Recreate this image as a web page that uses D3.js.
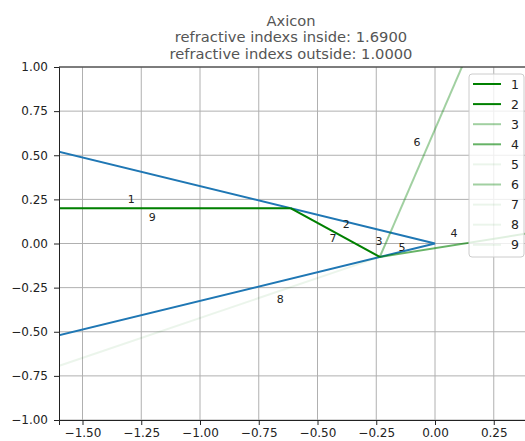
<!DOCTYPE html>
<html><head><meta charset="utf-8">
<script src="https://cdn.jsdelivr.net/npm/d3@7"></script>
<style>body{margin:0;background:#fff}svg{display:block}text{font-family:"DejaVu Sans",sans-serif}</style>
</head><body><svg id="c" width="525" height="441"></svg>
<script>
// ---- data ----
const titleLines = ["Axicon", "refractive indexs inside: 1.6900", "refractive indexs outside: 1.0000"];
const xTicks = [-1.5, -1.25, -1.0, -0.75, -0.5, -0.25, 0.0, 0.25];
const yTicks = [-1.0, -0.75, -0.5, -0.25, 0.0, 0.25, 0.5, 0.75, 1.0];
const xDomain = [-1.6, 0.4];
const yDomain = [-1.0, 1.0];
// axicon outline (blue)
const axiconX = [-2.0, 0.0, -2.0];
const axiconY = [0.65, 0.0, -0.65];
// ray segments: start/end points
const rayNames = ["1","2","3","4","5","6","7","8","9"];
const rayX0 = [-2.0, -0.615, -0.235, -0.235, -0.190, -0.190, -0.235, -0.235, -0.615];
const rayY0 = [0.2, 0.2, -0.076, -0.076, 0.062, 0.062, -0.076, -0.076, 0.2];
const rayX1 = [-0.615, -0.235, -0.190, 0.5, -0.235, 0.147, -0.615, -2.0, -2.0];
const rayY1 = [0.2, -0.076, 0.062, 0.080, -0.076, 1.1, 0.2, -0.874, 0.2];
const rayAlpha = [1, 1, 0.37, 0.6, 0.08, 0.37, 0.08, 0.08, 0.08];
// ray label positions
const labelX = [-1.293, -0.378, -0.238, 0.081, -0.140, -0.077, -0.434, -0.659, -1.203];
const labelY = [0.252, 0.105, 0.014, 0.054, -0.020, 0.575, 0.026, -0.320, 0.150];

// ---- layout ----
const svg = d3.select("#c");
const L = 59, R = 529, T = 67, B = 420;
const x = d3.scaleLinear().domain(xDomain).range([L, R]);
const y = d3.scaleLinear().domain(yDomain).range([B, T]);

svg.append("rect").attr("width",525).attr("height",441).attr("fill","#fff");
svg.append("defs").append("clipPath").attr("id","clip")
  .append("rect").attr("x",L).attr("y",T).attr("width",R-L).attr("height",B-T);

// grid
const grid = svg.append("g");
grid.selectAll(".gx").data(xTicks).join("line")
  .attr("x1",d=>x(d)).attr("x2",d=>x(d)).attr("y1",T).attr("y2",B)
  .attr("stroke","#b0b0b0").attr("stroke-width",1);
grid.selectAll(".gy").data(yTicks).join("line")
  .attr("x1",L).attr("x2",R).attr("y1",d=>y(d)).attr("y2",d=>y(d))
  .attr("stroke","#b0b0b0").attr("stroke-width",1);

const plot = svg.append("g").attr("clip-path","url(#clip)");
const line = d3.line().x(d=>x(d[0])).y(d=>y(d[1]));

// axicon
plot.append("path").datum(axiconX.map((v,i)=>[v, axiconY[i]]))
  .attr("d", line).attr("fill","none").attr("stroke","#1f77b4").attr("stroke-width",2);

// rays
const rays = rayNames.map((n,i)=>({n, pts:[[rayX0[i],rayY0[i]],[rayX1[i],rayY1[i]]], a: rayAlpha[i]}));
plot.selectAll(".ray").data(rays).join("path")
  .attr("d", d=>line(d.pts)).attr("fill","none")
  .attr("stroke","#008000").attr("stroke-opacity", d=>d.a).attr("stroke-width",2);

// labels
plot.selectAll(".lab").data(rayNames).join("text")
  .attr("x",(d,i)=>x(labelX[i])).attr("y",(d,i)=>y(labelY[i]))
  .attr("text-anchor","middle").attr("dominant-baseline","central")
  .attr("font-size",11).attr("fill","#222").text(d=>d);

// axes
const xAxis = svg.append("g").attr("transform",`translate(0,${B})`)
  .call(d3.axisBottom(x).tickValues(xTicks).tickSize(5).tickPadding(3).tickFormat(d3.format(".2f")));
const yAxis = svg.append("g").attr("transform",`translate(${L},0)`)
  .call(d3.axisLeft(y).tickValues(yTicks).tickSize(5).tickPadding(6).tickFormat(d3.format(".2f")));
[xAxis, yAxis].forEach(g=>{
  g.selectAll("text").attr("font-size",12).attr("fill","#222").attr("font-family","DejaVu Sans");
  g.selectAll("line").attr("stroke","#222");
  g.select(".domain").attr("stroke","#222");
});
// top spine
svg.append("line").attr("x1",L).attr("x2",R).attr("y1",T).attr("y2",T).attr("stroke","#222").attr("stroke-width",1);

// title
svg.append("g").selectAll("text").data(titleLines).join("text")
  .attr("x",(L+R)/2 - 3).attr("y",(d,i)=>25.5 + i*16.8)
  .attr("text-anchor","middle").attr("font-size",14.7).attr("fill","#555").text(d=>d);

// legend
const lg = svg.append("g");
lg.append("rect").attr("x",469).attr("y",74).attr("width",55).attr("height",183).attr("rx",3)
  .attr("fill","#fff").attr("fill-opacity",0.8).attr("stroke","#cccccc").attr("stroke-width",1);
const rows = lg.selectAll(".row").data(rays).join("g")
  .attr("transform",(d,i)=>`translate(0,${84 + i*20.1})`);
rows.append("line").attr("x1",473).attr("x2",501).attr("y1",0).attr("y2",0)
  .attr("stroke","#008000").attr("stroke-opacity",d=>d.a).attr("stroke-width",2);
rows.append("text").attr("x",511).attr("y",0).attr("dominant-baseline","central")
  .attr("font-size",12.5).attr("fill","#222").text(d=>d.n);
</script></body></html>
